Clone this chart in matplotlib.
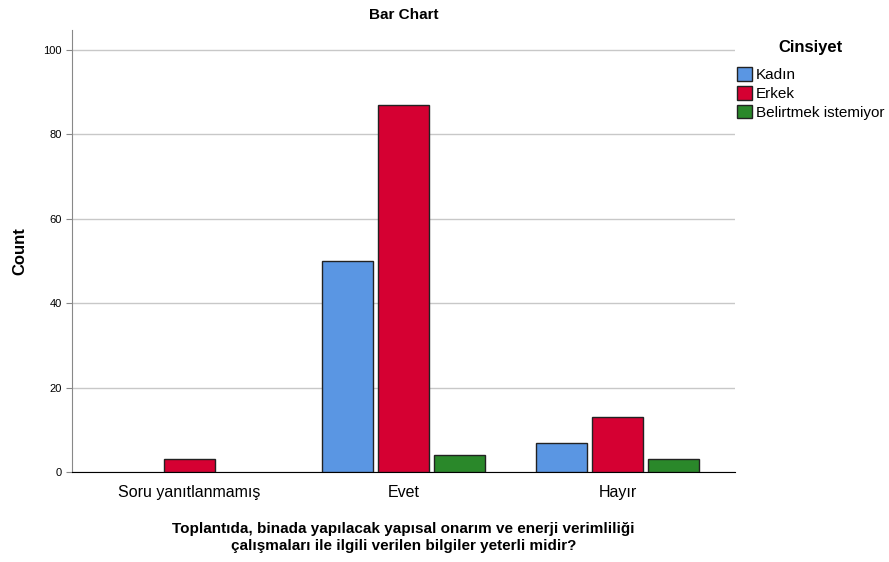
import numpy as np
import matplotlib.pyplot as plt
from matplotlib.patches import Patch

categories = ['Soru yanıtlanmamış', 'Evet', 'Hayır']
series = ['Kadın', 'Erkek', 'Belirtmek istemiyor']
kadin = [0, 50, 7]
erkek = [3, 87, 13]
belirtmek = [0, 4, 3]
colors = ['#5A96E3', '#D50032', '#2A882A']

plt.rcParams['font.family'] = ['Liberation Sans', 'DejaVu Sans']

fig = plt.figure(figsize=(8.89, 5.62), dpi=100)
ax = fig.add_axes([0.081, 0.160, 0.746, 0.787])

x = np.arange(len(categories))
w = 0.238
step = 0.262
for i, vals in enumerate([kadin, erkek, belirtmek]):
    bars = ax.bar(x + (i - 1) * step, vals, width=w, color=colors[i],
                  edgecolor='#222222', linewidth=1.0, zorder=3)
    for b, v in zip(bars, vals):
        if v == 0:
            b.set_visible(False)

ax.set_xlim(-0.55, 2.55)
ax.set_ylim(0, 104.7)
ax.set_yticks([0, 20, 40, 60, 80, 100])
ax.set_xticks(x)
ax.set_xticklabels(categories, fontsize=11.5)
ax.tick_params(axis='y', labelsize=8, length=4, color='#888888')
ax.tick_params(axis='x', length=0, pad=9)
ax.grid(axis='y', color='#c8c8c8', linewidth=1.0, zorder=0)

for s in ['top', 'right']:
    ax.spines[s].set_visible(False)
ax.spines['left'].set_color('#888888')
ax.spines['bottom'].set_color('#000000')

ax.set_title('Bar Chart', fontsize=11, fontweight='bold', pad=8)
ax.set_ylabel('Count', fontsize=12, fontweight='bold', labelpad=11)
ax.set_xlabel('Toplantıda, binada yapılacak yapısal onarım ve enerji verimliliği\nçalışmaları ile ilgili verilen bilgiler yeterli midir?',
              fontsize=11, fontweight='bold', labelpad=16, linespacing=1.3)

handles = [Patch(facecolor=c, edgecolor='#222222', linewidth=1.0) for c in colors]
leg = ax.legend(handles, series, title='Cinsiyet', loc='upper left', bbox_to_anchor=(1.002, 0.978),
                frameon=False, fontsize=11, title_fontproperties={'weight': 'bold', 'size': 12},
                handlelength=1.0, handleheight=1.0, handletextpad=0.25,
                labelspacing=0.25, borderaxespad=0.0, borderpad=0.0)
leg._legend_box.sep = 9

fig.savefig('out.png', dpi=100)
